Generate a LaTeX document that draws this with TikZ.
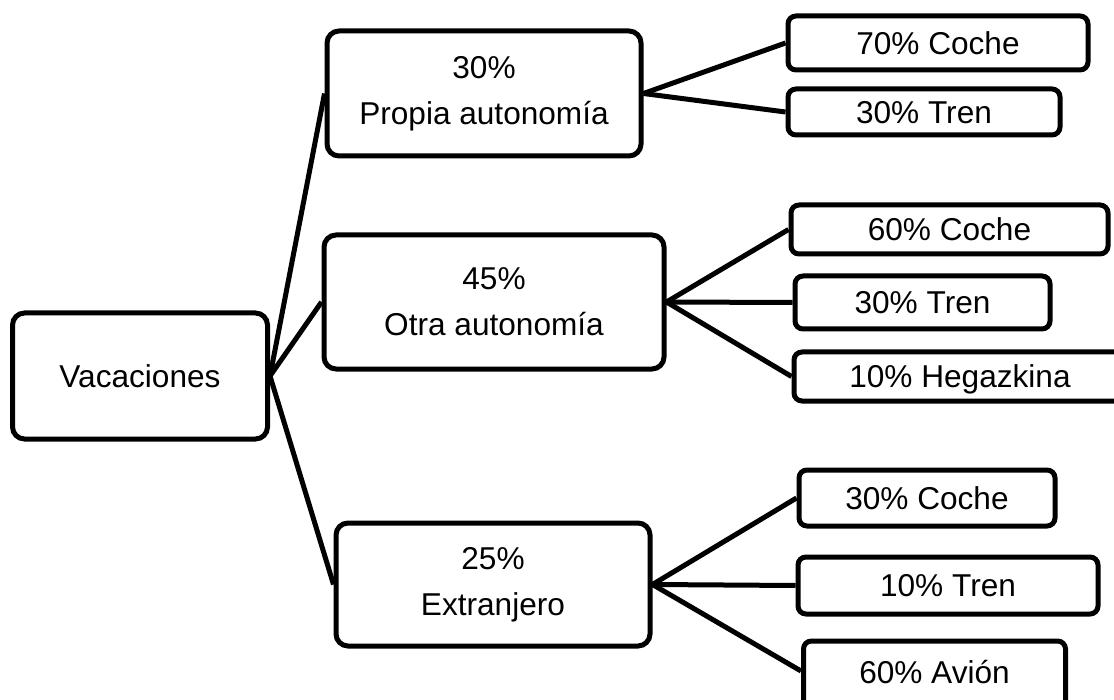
\documentclass[tikz,border=0pt]{standalone}
\usepackage{fontspec}
\setmainfont{Liberation Sans}
\usetikzlibrary{positioning}
\tikzset{
    caja/.style={
        rectangle,
        rounded corners=6pt,
        line width=2.5pt,
        draw=black,
        align=center,
        inner sep=2pt,
        font=\fontsize{15.8pt}{23pt}\selectfont,
    },
    hoja/.style={
        rectangle,
        rounded corners=4pt,
        line width=2.5pt,
        draw=black,
        inner sep=2pt,
        text height=11.4pt,
        text depth=0pt,
        font=\fontsize{15.8pt}{23pt}\selectfont,
    },
}

\begin{document}
\begin{tikzpicture}[x=0.5pt,y=-0.5pt,line width=2.5pt]
    \fill[white] (0,0) rectangle (1114,700);
    \useasboundingbox (0,0) rectangle (1114,700);

    \node [caja,minimum width=127.5pt,minimum height=63pt] (vacaciones) at (140,376) {Vacaciones};
    \node [caja,minimum width=157pt,minimum height=62.5pt] (propia) at (484,93.5) {30\%\\Propia autonomía};
    \node [caja,minimum width=170pt,minimum height=67pt] (otra) at (494,302) {45\%\\Otra autonomía};
    \node [caja,minimum width=157pt,minimum height=61.5pt] (extranjero) at (493,584.5) {25\%\\Extranjero};

    \node [hoja,minimum width=150pt,minimum height=27pt] (pcoche) at (938,43) {70\% Coche};
    \node [hoja,minimum width=136pt,minimum height=23pt] (ptren) at (924,112) {30\% Tren};

    \node [hoja,minimum width=158.5pt,minimum height=24.5pt] (ocoche) at (949.5,229.5) {60\% Coche};
    \node [hoja,minimum width=127.5pt,minimum height=26.5pt] (otren) at (922.5,302.5) {30\% Tren};
    \node [hoja,minimum width=166pt,minimum height=24.5pt] (ohegaz) at (960,376.5) {10\% Hegazkina};

    \node [hoja,minimum width=128pt,minimum height=28pt] (ecoche) at (927,498) {30\% Coche};
    \node [hoja,minimum width=150pt,minimum height=28.5pt] (etren) at (948,585.5) {10\% Tren};
    \node [hoja,minimum width=131pt,minimum height=34pt,text depth=3pt] (eavion) at (934.5,675) {60\% Avión};

    \path (vacaciones.east) edge (propia.west);
    \path (vacaciones.east) edge (otra.west);
    \path (vacaciones.east) edge (extranjero.west);

    \path (propia.east) edge (pcoche.west);
    \path (propia.east) edge (ptren.west);

    \path (otra.east) edge (ocoche.west);
    \path (otra.east) edge (otren.west);
    \path (otra.east) edge (ohegaz.west);

    \path (extranjero.east) edge (ecoche.west);
    \path (extranjero.east) edge (etren.west);
    \path (extranjero.east) edge ([yshift=2pt]eavion.west);
\end{tikzpicture}
\end{document}
